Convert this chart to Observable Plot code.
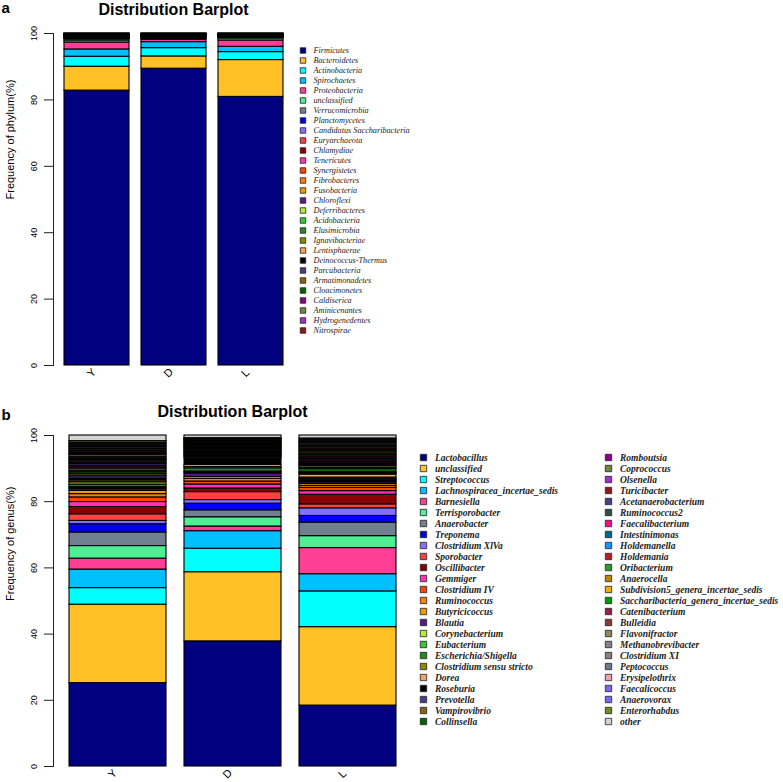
<!DOCTYPE html>
<html><head><meta charset="utf-8">
<script src="https://cdn.jsdelivr.net/npm/d3@7"></script>
<script src="https://cdn.jsdelivr.net/npm/@observablehq/plot@0.6"></script>
<style>
body{margin:0;background:#fff;}
#wrap{position:relative;width:783px;height:782px;overflow:hidden;background:#fff;}
#wrap svg{position:absolute;overflow:visible;}
</style></head><body><div id="wrap"></div>
<script>
const samples = ["Y", "D", "L"];
const yTicks = [0, 20, 40, 60, 80, 100];

const phyla = ["Firmicutes","Bacteroidetes","Actinobacteria","Spirochaetes","Proteobacteria","unclassified","Verrucomicrobia","Planctomycetes","Candidatus Saccharibacteria","Euryarchaeota","Chlamydiae","Tenericutes","Synergistetes","Fibrobacteres","Fusobacteria","Chloroflexi","Deferribacteres","Acidobacteria","Elusimicrobia","Ignavibacteriae","Lentisphaerae","Deinococcus-Thermus","Parcubacteria","Armatimonadetes","Cloacimonetes","Caldiserica","Aminicenantes","Hydrogenedentes","Nitrospirae"];
const phylumColors = ["#000080","#FFC125","#00FFFF","#00BFFF","#FF3E96","#4EEE94","#708090","#0000EE","#8470FF","#FF4040","#8B0000","#FF34B3","#FF4500","#FF7F00","#EE9A00","#551A8B","#B3EE3A","#32CD32","#228B22","#8B8B00","#F4A460","#000000","#483D8B","#8B6508","#006400","#8B008B","#6E8B3D","#9A32CD","#8B1A1A"];
const phylumY = [82.8,7.2,3.0,2.2,2.1,0.6,0.4,0.1,0.15,0.1,0.1,0.15,0.1,0.1,0.05,0.05,0.1,0.05,0.1,0.05,0.1,0.05,0.05,0.05,0.05,0.05,0.05,0.05,0.05];
const phylumD = [89.4,3.7,2.5,1.8,0.7,0.3,0.3,0.1,0.1,0.05,0.1,0.1,0.05,0.05,0.05,0.05,0.05,0.05,0.05,0.05,0.05,0.05,0.05,0.05,0.05,0.05,0.05,0.05,0.05];
const phylumL = [80.9,11.1,2.4,1.6,1.9,0.6,0.2,0.05,0.1,0.05,0.05,0.1,0.1,0.05,0.05,0.05,0.1,0.05,0.05,0.05,0.05,0.05,0.05,0.05,0.05,0.05,0.05,0.05,0.05];

const genera = ["Lactobacillus","unclassified","Streptococcus","Lachnospiracea_incertae_sedis","Barnesiella","Terrisporobacter","Anaerobacter","Treponema","Clostridium XlVa","Sporobacter","Oscillibacter","Gemmiger","Clostridium IV","Ruminococcus","Butyricicoccus","Blautia","Corynebacterium","Eubacterium","Escherichia/Shigella","Clostridium sensu stricto","Dorea","Roseburia","Prevotella","Vampirovibrio","Collinsella","Romboutsia","Coprococcus","Olsenella","Turicibacter","Acetanaerobacterium","Ruminococcus2","Faecalibacterium","Intestinimonas","Holdemanella","Holdemania","Oribacterium","Anaerocella","Subdivision5_genera_incertae_sedis","Saccharibacteria_genera_incertae_sedis","Catenibacterium","Bulleidia","Flavonifractor","Methanobrevibacter","Clostridium XI","Peptococcus","Erysipelothrix","Faecalicoccus","Anaerovorax","Enterorhabdus","other"];
const genusColors = ["#000080","#FFC125","#00FFFF","#00BFFF","#FF3E96","#4EEE94","#708090","#0000EE","#8470FF","#FF4040","#8B0000","#FF34B3","#FF4500","#FF7F00","#EE9A00","#551A8B","#B3EE3A","#32CD32","#228B22","#8B8B00","#F4A460","#000000","#483D8B","#8B6508","#006400","#8B008B","#6E8B3D","#9A32CD","#8B1A1A","#473C8B","#2F4F4F","#EE1289","#00688B","#1E90FF","#B22222","#2E9B2E","#B8860B","#EEAD0E","#009900","#8B2252","#8B3A3A","#8B8B5F","#848484","#8B7D7B","#6C7B8B","#EEA2AD","#7B68EE","#7A67EE","#6B8E23","#D3D3D3"];
const genusY = [25.2,23.7,5.0,5.6,3.3,3.8,4.1,2.5,1.0,2.0,2.2,1.5,1.4,1.0,1.0,0.5,0.3,0.3,0.7,0.8,0.5,0.6,0.7,0.6,0.6,0.5,0.6,0.4,0.5,0.5,0.4,0.4,0.4,0.3,0.4,0.3,0.5,0.3,0.3,0.4,0.3,0.4,0.3,0.4,0.3,0.4,0.3,0.3,0.5,1.7];
const genusD = [37.8,20.9,7.1,5.3,1.4,2.8,2.1,2.0,1.1,2.4,1.1,1.2,0.9,0.8,0.6,1.0,0.3,0.3,1.0,0.4,0.6,2.0,0.4,0.3,0.3,0.3,0.3,0.2,0.3,0.2,0.3,0.2,0.2,0.2,0.2,0.2,0.2,0.2,0.2,0.2,0.2,0.2,0.2,0.2,0.2,0.2,0.2,0.2,0.1,0.8];
const genusL = [18.4,23.7,10.8,5.2,7.9,3.6,4.1,2.0,2.3,1.2,2.9,1.1,1.0,0.6,0.6,0.5,0.3,0.3,0.4,0.4,0.9,0.3,0.2,0.2,1.0,0.4,0.5,0.3,0.3,0.4,0.3,0.4,0.4,0.4,0.4,0.4,0.4,0.4,0.4,0.4,0.4,0.4,0.4,0.4,0.4,0.35,0.35,0.35,0.35,0.9];

const SANS = "'Liberation Sans', Arial, sans-serif";
const SERIF = "'Liberation Serif', 'Times New Roman', serif";

function table(names, series) {
  return samples.flatMap((s, si) => series[si].map((v, i) => ({sample: s, taxon: names[i], value: v})));
}

function barChart({data, names, colors, width, height, marginTop, marginBottom, marginRight, yLabel, letter, titleBase, letterBase}) {
  return Plot.plot({
    width, height, marginTop, marginBottom, marginLeft: 53, marginRight,
    style: {fontFamily: SANS, background: "transparent", color: "black", overflow: "visible"},
    x: {domain: samples, paddingInner: 0.16, paddingOuter: 0.13, axis: null},
    y: {domain: [0, 100]},
    color: {domain: names, range: colors},
    marks: [
      Plot.barY(data, {x: "sample", y: "value", fill: "taxon", stroke: "#000", strokeWidth: 1.1}),
      Plot.frame({anchor: "left", stroke: "#222", strokeWidth: 1}),
      Plot.axisY(yTicks, {tickSize: 9, tickRotate: -90, tickPadding: 8, fontSize: 9, label: null, stroke: "#222"}),
      Plot.text(samples, {x: d => d, text: d => d, frameAnchor: "bottom", dx: -3, dy: 10, rotate: -45, fontSize: 11}),
      Plot.text([yLabel], {frameAnchor: "left", dx: -43, rotate: -90, fontSize: 11}),
      Plot.text(["Distribution Barplot"], {frameAnchor: "top", lineAnchor: "bottom", dy: titleBase - marginTop, fontSize: 16, fontWeight: "bold"}),
      Plot.text([letter], {frameAnchor: "top-left", textAnchor: "start", lineAnchor: "bottom", dx: -52, dy: letterBase - marginTop, fontSize: 15, fontWeight: "bold"})
    ]
  });
}

const wrap = document.getElementById("wrap");
function place(svg, left, top) {
  svg.style.left = left + "px";
  svg.style.top = top + "px";
  wrap.appendChild(svg);
}

// Panel a
place(barChart({
  data: table(phyla, [phylumY, phylumD, phylumL]), names: phyla, colors: phylumColors,
  width: 295, height: 390, marginTop: 33, marginBottom: 25, marginRight: 2,
  yLabel: "Frequency of phylum(%)", letter: "a", titleBase: 14, letterBase: 12
}), 0, 0);

// Legend a
place(Plot.plot({
  width: 150, height: 306, marginTop: 8, marginBottom: 6, marginLeft: 12.5, marginRight: 0,
  style: {background: "transparent", overflow: "visible"},
  y: {type: "point", domain: phyla, padding: 0, axis: null},
  color: {domain: phyla, range: phylumColors},
  marks: [
    Plot.dot(phyla, {y: d => d, fill: d => d, symbol: "square", r: 3.1, stroke: "#222", strokeWidth: 0.8, frameAnchor: "left"}),
    Plot.text(phyla, {y: d => d, text: d => d, frameAnchor: "left", dx: 10.5, textAnchor: "start", fontSize: 8.2, fontStyle: "italic", fontFamily: SERIF, fill: "#222"})
  ]
}), 290, 36);

// Panel b
place(barChart({
  data: table(genera, [genusY, genusD, genusL]), names: genera, colors: genusColors,
  width: 415, height: 387, marginTop: 40, marginBottom: 16, marginRight: 4,
  yLabel: "Frequency of genus(%)", letter: "b", titleBase: 21, letterBase: 24
}), 0, 395);

// Legend b
const genusLegend = genera.map((g, i) => ({g, col: Math.floor(i / 25), row: i % 25}));
place(Plot.plot({
  width: 373, height: 305, marginTop: 12, marginBottom: 9, marginLeft: 12.5, marginRight: 175,
  style: {background: "transparent", overflow: "visible"},
  x: {type: "point", domain: [0, 1], padding: 0, axis: null},
  y: {type: "point", domain: d3.range(25), padding: 0, axis: null},
  color: {domain: genera, range: genusColors},
  marks: [
    Plot.dot(genusLegend, {x: "col", y: "row", fill: "g", symbol: "square", r: 3.6, stroke: "#222", strokeWidth: 0.8}),
    Plot.text(genusLegend, {x: "col", y: "row", text: "g", dx: 11.5, textAnchor: "start", fontSize: 9.5, fontStyle: "italic", fontWeight: "bold", fontFamily: SERIF, fill: "#222"})
  ]
}), 410, 435);
</script></body></html>
